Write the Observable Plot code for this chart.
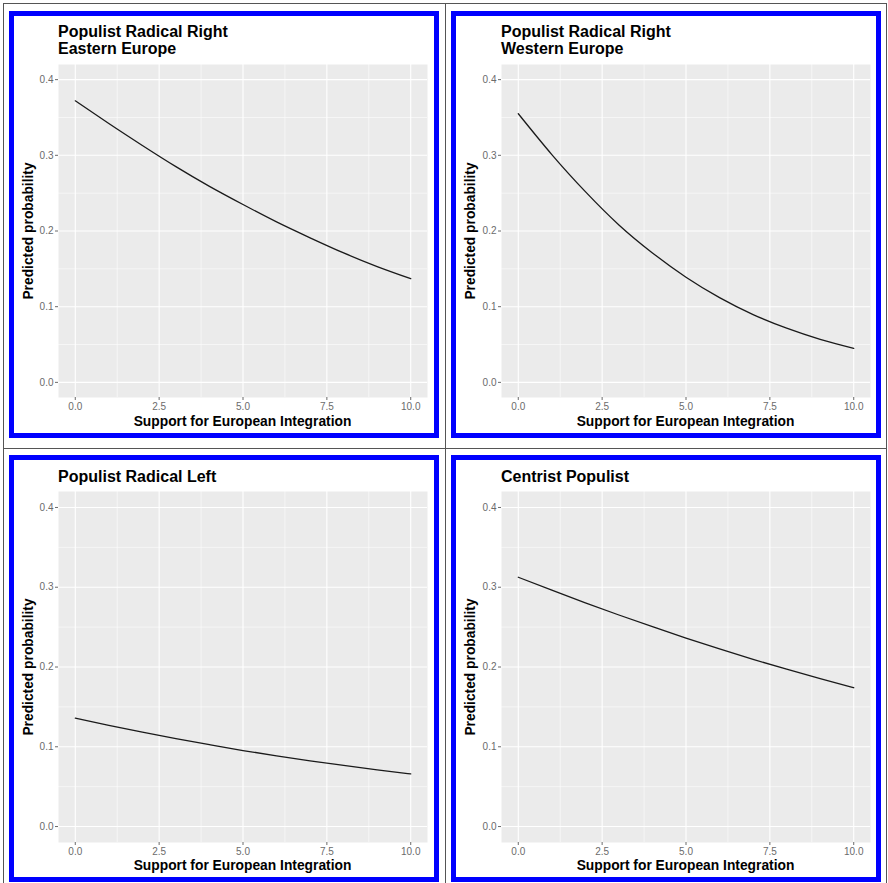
<!DOCTYPE html>
<html>
<head>
<meta charset="utf-8">
<script src="https://cdn.jsdelivr.net/npm/d3@7"></script>
<script src="https://cdn.jsdelivr.net/npm/@observablehq/plot@0.6"></script>
<style>
  html, body { margin: 0; padding: 0; background: #fff; }
  #root { position: relative; width: 888px; height: 883px; overflow: hidden; font-family: "Liberation Sans", Arial, Helvetica, sans-serif; }
  .hline, .vline { position: absolute; background: #555; }
  .box { position: absolute; }
  .border { position: absolute; left: 0; top: 0; right: 0; bottom: 0; box-sizing: border-box; border: 5px solid #0000ff; pointer-events: none; }
  .title { position: absolute; font-weight: bold; font-size: 16px; line-height: 16.6px; color: #000; white-space: nowrap; }
  .xtitle { position: absolute; font-weight: bold; font-size: 13.8px; line-height: 13.8px; color: #000; white-space: nowrap; transform: translateX(-50%); }
  .ytitle { position: absolute; font-weight: bold; font-size: 13.8px; line-height: 13.8px; color: #000; white-space: nowrap; transform: translate(-50%, -50%) rotate(-90deg); }
  svg { position: absolute; left: 0; top: 0; }
</style>
</head>
<body>
<div id="root"></div>
<script>
// ---- data ----
const support = [0, 1, 2, 3, 4, 5, 6, 7, 8, 9, 10];
const prrEast = [0.372, 0.342, 0.313, 0.285, 0.259, 0.235, 0.212, 0.191, 0.171, 0.153, 0.137];
const prrWest = [0.355, 0.301, 0.252, 0.208, 0.171, 0.139, 0.112, 0.0896, 0.0716, 0.0569, 0.045];
const prLeft  = [0.136, 0.1268, 0.1183, 0.1102, 0.1026, 0.0953, 0.0887, 0.0824, 0.0766, 0.0711, 0.066];
const centrist = [0.3125, 0.2963, 0.2805, 0.2652, 0.2505, 0.2363, 0.2227, 0.2096, 0.1972, 0.1853, 0.174];

const panelTitles = [
  ["Populist Radical Right", "Eastern Europe"],
  ["Populist Radical Right", "Western Europe"],
  ["Populist Radical Left"],
  ["Centrist Populist"]
];
const xTicks = [0, 2.5, 5, 7.5, 10];
const xMinor = [1.25, 3.75, 6.25, 8.75];
const yTicks = [0, 0.1, 0.2, 0.3, 0.4];
const yMinor = [0.05, 0.15, 0.25, 0.35];
const xLabel = "Support for European Integration";
const yLabel = "Predicted probability";

const series = [prrEast, prrWest, prLeft, centrist];

// ---- layout ----
const root = document.getElementById("root");
function line(cls, l, t, w, h) {
  const d = document.createElement("div");
  d.className = cls;
  Object.assign(d.style, {left: l + "px", top: t + "px", width: w + "px", height: h + "px"});
  root.appendChild(d);
}
line("hline", 3, 3, 884, 1);
line("hline", 3, 448, 884, 1);
line("vline", 3, 3, 1, 880);
line("vline", 445, 3, 1, 880);
line("vline", 886, 3, 1, 880);

const boxes = [
  {left: 9, top: 11, mt: 53, mb: 41, ml: 49, mr: 12, titleTop: 13},
  {left: 451, top: 11, mt: 53, mb: 41, ml: 50, mr: 11, titleTop: 13},
  {left: 9, top: 455, mt: 36, mb: 40, ml: 49, mr: 12, titleTop: 14},
  {left: 451, top: 455, mt: 36, mb: 40, ml: 50, mr: 11, titleTop: 14}
];
const W = 430, H = 427;

boxes.forEach((b, i) => {
  const data = support.map((s, k) => ({x: s, y: series[i][k]}));
  const box = document.createElement("div");
  box.className = "box";
  Object.assign(box.style, {left: b.left + "px", top: b.top + "px", width: W + "px", height: H + "px"});

  const chart = Plot.plot({
    width: W,
    height: H,
    marginTop: b.mt,
    marginBottom: b.mb,
    marginLeft: b.ml,
    marginRight: b.mr,
    style: {fontFamily: '"Liberation Sans", Arial, sans-serif', background: "transparent", overflow: "visible"},
    x: {domain: [-0.5, 10.5]},
    y: {domain: [-0.02, 0.42]},
    marks: [
      Plot.frame({fill: "#ebebeb", stroke: null}),
      Plot.ruleX(xMinor, {stroke: "#fff", strokeWidth: 0.55}),
      Plot.ruleY(yMinor, {stroke: "#fff", strokeWidth: 0.55}),
      Plot.ruleX(xTicks, {stroke: "#fff", strokeWidth: 1.1}),
      Plot.ruleY(yTicks, {stroke: "#fff", strokeWidth: 1.1}),
      Plot.line(data, {x: "x", y: "y", stroke: "#1a1a1a", strokeWidth: 1.3, curve: "natural"}),
      Plot.axisX({ticks: xTicks, tickFormat: d => d.toFixed(1), tickSize: 3, tickPadding: 2, fontSize: 10, color: "#6b6b6b", label: null}),
      Plot.axisY({ticks: yTicks, tickFormat: d => d.toFixed(1), tickSize: 3, tickPadding: 2, fontSize: 10, color: "#6b6b6b", label: null})
    ]
  });
  box.appendChild(chart);

  const t = document.createElement("div");
  t.className = "title";
  t.style.left = b.ml + "px";
  t.style.top = b.titleTop + "px";
  t.innerHTML = panelTitles[i].join("<br>");
  box.appendChild(t);

  const xt = document.createElement("div");
  xt.className = "xtitle";
  xt.style.left = (b.ml + (W - b.ml - b.mr) / 2) + "px";
  xt.style.top = (H - 23) + "px";
  xt.textContent = xLabel;
  box.appendChild(xt);

  const yt = document.createElement("div");
  yt.className = "ytitle";
  yt.style.left = "19.6px";
  yt.style.top = (b.mt + (H - b.mt - b.mb) / 2) + "px";
  yt.textContent = yLabel;
  box.appendChild(yt);

  const br = document.createElement("div");
  br.className = "border";
  box.appendChild(br);

  root.appendChild(box);
});
</script>
</body>
</html>
